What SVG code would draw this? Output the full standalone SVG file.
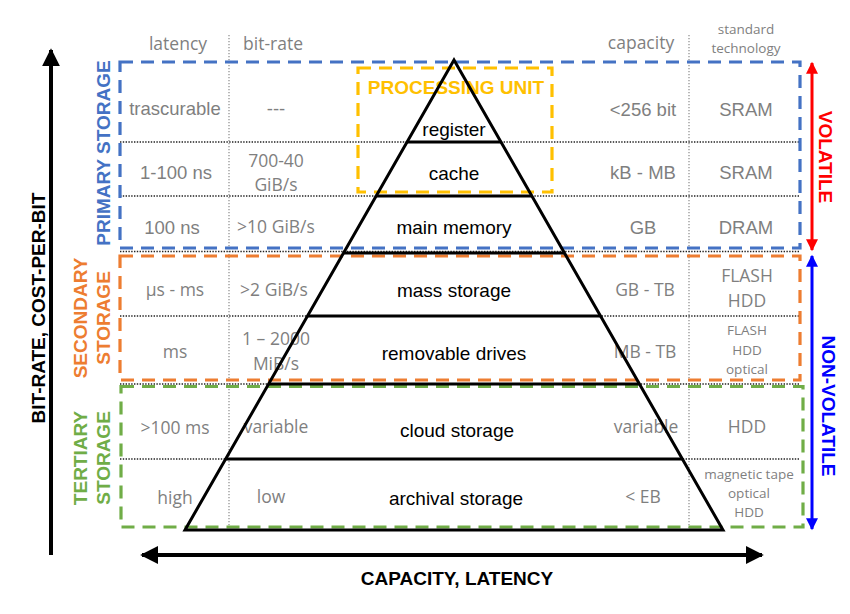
<svg xmlns="http://www.w3.org/2000/svg" width="850" height="614" viewBox="0 0 850 614">
<style>
.g{fill:#7f7f7f;font-family:"Liberation Sans",Arial,sans-serif;font-size:18.5px;text-anchor:middle}
.c{fill:#7f7f7f;font-family:"Open Sans","Liberation Sans",sans-serif;font-size:17.5px;text-anchor:middle}
.cs{fill:#7f7f7f;font-family:"Open Sans","Liberation Sans",sans-serif;font-size:13.5px;text-anchor:middle}
.p{fill:#000;font-family:"Liberation Sans",Arial,sans-serif;font-size:19px;text-anchor:middle}
.b{font-family:"Liberation Sans",Arial,sans-serif;font-weight:bold;font-size:19px;text-anchor:middle}
.dot{stroke:#222;stroke-width:1.4;stroke-dasharray:1.4 1.4;fill:none}
.vdot{stroke:#8a8a8a;stroke-width:1.2;stroke-dasharray:1.2 1.8;fill:none}
.box{fill:none;stroke-width:3.2;stroke-dasharray:13 8}
.py{stroke:#000;stroke-width:3;fill:none}
</style>
<defs>
<marker id="ak" viewBox="0 0 10 10" refX="9" refY="5" markerWidth="4.5" markerHeight="4.5" orient="auto-start-reverse" markerUnits="strokeWidth"><path d="M0,0 L10,5 L0,10 z" fill="#000"/></marker>
<marker id="ar" viewBox="0 0 10 10" refX="9" refY="5" markerWidth="4.5" markerHeight="4" orient="auto-start-reverse" markerUnits="strokeWidth"><path d="M0,0 L10,5 L0,10 z" fill="#ff0000"/></marker>
<marker id="ab" viewBox="0 0 10 10" refX="9" refY="5" markerWidth="4.5" markerHeight="4" orient="auto-start-reverse" markerUnits="strokeWidth"><path d="M0,0 L10,5 L0,10 z" fill="#0000ff"/></marker>
</defs>

<g id="headers">
<text class="c" x="178" y="50">latency</text>
<text class="c" x="273" y="50">bit-rate</text>
<text class="c" x="641" y="49">capacity</text>
<text class="cs" x="746" y="34">standard</text>
<text class="cs" x="746" y="53">technology</text>
</g>

<g id="grid">
<line class="vdot" x1="229" y1="35" x2="229" y2="528"/>
<line class="vdot" x1="689" y1="35" x2="689" y2="528"/>
<line class="dot" x1="120" y1="142" x2="800" y2="142"/>
<line class="dot" x1="120" y1="196" x2="800" y2="196"/>
<line class="dot" x1="120" y1="251.5" x2="800" y2="251.5"/>
<line class="dot" x1="120" y1="316" x2="800" y2="316"/>
<line class="dot" x1="120" y1="384" x2="800" y2="384"/>
<line class="dot" x1="120" y1="459" x2="800" y2="459"/>
</g>

<g id="primary-storage">
<rect class="box" x="120" y="62" width="680" height="186" stroke="#4472c4"/>
<text class="b" fill="#4472c4" transform="translate(110,153) rotate(-90)">PRIMARY STORAGE</text>
</g>
<g id="secondary-storage">
<rect class="box" x="120" y="256" width="680" height="124" stroke="#ed7d31"/>
<text class="b" fill="#ed7d31" transform="translate(87,318) rotate(-90)">SECONDARY</text>
<text class="b" fill="#ed7d31" transform="translate(110,318) rotate(-90)">STORAGE</text>
</g>
<g id="tertiary-storage">
<rect class="box" x="121" y="386.5" width="682" height="140.5" stroke="#70ad47"/>
<text class="b" fill="#70ad47" transform="translate(87,458) rotate(-90)">TERTIARY</text>
<text class="b" fill="#70ad47" transform="translate(110,458) rotate(-90)">STORAGE</text>
</g>
<g id="processing-unit">
<rect class="box" x="358" y="68" width="194" height="124" stroke="#ffc000" stroke-dasharray="10 6"/>
<text class="b" fill="#ffc000" x="456" y="94">PROCESSING UNIT</text>
</g>

<g id="row-register">
<text class="g" x="175" y="115">trascurable</text>
<text class="g" x="276" y="115">---</text>
<text class="p" x="454" y="136">register</text>
<text class="g" x="643" y="116">&lt;256 bit</text>
<text class="g" x="746" y="116">SRAM</text>
</g>
<g id="row-cache">
<text class="g" x="176" y="179">1-100 ns</text>
<text class="c" x="276" y="167">700-40</text>
<text class="c" x="276" y="191">GiB/s</text>
<text class="p" x="454" y="180">cache</text>
<text class="g" x="643" y="179">kB - MB</text>
<text class="g" x="746" y="179">SRAM</text>
</g>
<g id="row-main-memory">
<text class="g" x="172" y="234">100 ns</text>
<text class="c" x="276" y="233">&gt;10 GiB/s</text>
<text class="p" x="454" y="234">main memory</text>
<text class="g" x="643" y="234">GB</text>
<text class="g" x="746" y="234">DRAM</text>
</g>
<g id="row-mass-storage">
<text class="c" x="175" y="296">μs - ms</text>
<text class="c" x="274" y="296">&gt;2 GiB/s</text>
<text class="p" x="454" y="297">mass storage</text>
<text class="c" x="645" y="296">GB - TB</text>
<text class="c" x="747" y="282">FLASH</text>
<text class="c" x="747" y="307">HDD</text>
</g>
<g id="row-removable-drives">
<text class="c" x="175" y="358">ms</text>
<text class="c" x="276" y="345">1 – 2000</text>
<text class="c" x="276" y="370">MiB/s</text>
<text class="p" x="454" y="360">removable drives</text>
<text class="c" x="645" y="358">MB - TB</text>
<text class="cs" x="747" y="335">FLASH</text>
<text class="cs" x="747" y="355">HDD</text>
<text class="cs" x="747" y="374">optical</text>
</g>
<g id="row-cloud-storage">
<text class="c" x="175" y="434">&gt;100 ms</text>
<text class="c" x="276" y="433">variable</text>
<text class="p" x="457" y="437">cloud storage</text>
<text class="c" x="646" y="433">variable</text>
<text class="c" x="747" y="433">HDD</text>
</g>
<g id="row-archival-storage">
<text class="c" x="175" y="504">high</text>
<text class="c" x="271" y="503">low</text>
<text class="p" x="456" y="505">archival storage</text>
<text class="c" x="643" y="503">&lt; EB</text>
<text class="cs" x="749" y="479">magnetic tape</text>
<text class="cs" x="749" y="498">optical</text>
<text class="cs" x="749" y="517">HDD</text>
</g>

<g id="pyramid">
<polygon class="py" points="454,60 185,530 723,530"/>
<line class="py" x1="407.1" y1="142" x2="500.9" y2="142"/>
<line class="py" x1="376.2" y1="196" x2="531.8" y2="196"/>
<line class="py" x1="343.5" y1="253" x2="564.5" y2="253"/>
<line class="py" x1="307.5" y1="316" x2="600.5" y2="316"/>
<line class="py" x1="268.6" y1="384" x2="639.4" y2="384"/>
<line class="py" x1="225.7" y1="459" x2="682.3" y2="459"/>
</g>

<g id="connectors">
<line x1="51" y1="555" x2="51" y2="50" stroke="#000" stroke-width="4" marker-end="url(#ak)"/>
<line x1="142" y1="555" x2="762" y2="555" stroke="#000" stroke-width="4" marker-start="url(#ak)" marker-end="url(#ak)"/>
<line x1="812" y1="63" x2="812" y2="250" stroke="#ff0000" stroke-width="3" marker-start="url(#ar)" marker-end="url(#ar)"/>
<line x1="812" y1="256" x2="812" y2="529" stroke="#0000ff" stroke-width="3" marker-start="url(#ab)" marker-end="url(#ab)"/>
</g>

<g id="axis-labels">
<text class="b" fill="#000" transform="translate(45,308) rotate(-90)">BIT-RATE, COST-PER-BIT</text>
<text class="b" fill="#000" font-size="19.5" x="457" y="585">CAPACITY, LATENCY</text>
<text class="b" fill="#ff0000" transform="translate(819,157) rotate(90)">VOLATILE</text>
<text class="b" fill="#0000ff" transform="translate(822,406) rotate(90)">NON-VOLATILE</text>
</g>
</svg>
